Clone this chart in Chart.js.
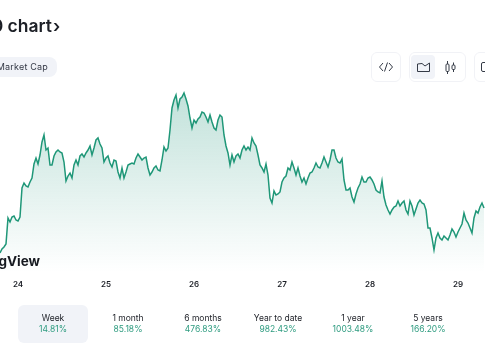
<!DOCTYPE html>
<html>
<head>
<meta charset="utf-8">
<script src="https://cdn.jsdelivr.net/npm/chart.js@4"></script>
<style>
  html, body { margin: 0; padding: 0; background: #fff; overflow: hidden; }
  body { width: 485px; height: 360px; position: relative; font-family: Inter, sans-serif; color: #1c1f26; }
  #wrap { position: absolute; left: 0; top: 0; width: 485px; height: 300px; }
  .abs { position: absolute; white-space: nowrap; }
  #title { right: 433px; top: 14px; font-size: 17.5px; font-weight: 600; line-height: 24px; }
  #chevron { left: 53px; top: 14px; font-size: 17.5px; font-weight: 600; line-height: 24px; }
  #pill { left: -20px; top: 57px; width: 77px; height: 20px; background: #f1f3f8; border-radius: 8px; }
  #pillText { right: 437px; top: 61px; font-size: 9px; line-height: 12px; letter-spacing: .2px; color: #333845; }
  #logo { right: 445px; top: 252px; font-size: 13.5px; font-weight: 700; line-height: 18px; color: #171a20; }
  .box { position: absolute; top: 52px; height: 28px; border: 1px solid #f1f2f6; border-radius: 6px; box-sizing: content-box; }
  .box svg { position: absolute; }
  #active { position: absolute; left: 411px; top: 55px; width: 24px; height: 24px; background: #f1f3f8; border-radius: 4px; }
  #week { position: absolute; left: 18px; top: 305px; width: 70px; height: 38px; background: #f1f3f8; border-radius: 6px; }
  .stat { position: absolute; top: 313px; width: 75px; margin-left: -37.5px; text-align: center; font-size: 8.5px; line-height: 11px; }
  .stat b { display: block; font-weight: 400; color: #2f9c80; }
</style>
</head>
<body>
<div id="wrap"><canvas id="priceChart" width="485" height="300"></canvas></div>

<div class="abs" id="title">0 chart</div>
<div class="abs" id="chevron">›</div>
<div class="abs" id="pill"></div>
<div class="abs" id="pillText">Market Cap</div>
<div class="abs" id="logo">TradingView</div>

<div class="box" style="left:371px;width:28px">
  <svg width="28" height="28" viewBox="0 0 28 28" fill="none" stroke="#343a46" stroke-width="1">
    <path d="M11 10l-3.500 4 3.500 4M17 10l3.500 4-3.500 4M15.500 9.500l-3 9"/>
  </svg>
</div>
<div id="active"></div>
<div class="box" style="left:409px;width:55px">
  <svg width="55" height="28" viewBox="0 0 55 28" fill="none" stroke="#343a46" stroke-width="1">
    <path d="M7.500 11v7.500h12V10l-4.500 3-3-2.500z"/>
    <path d="M37.500 8v3M37.500 18.500v2.500M43.500 9.500v2.500M43.500 16.500v2.500"/>
    <rect x="36" y="11" width="3" height="7.500" rx="1"/>
    <rect x="42" y="12" width="3" height="4.500" rx="1"/>
  </svg>
</div>
<div class="box" style="left:474px;width:40px">
  <svg width="40" height="28" viewBox="0 0 40 28" fill="none" stroke="#343a46" stroke-width="1">
    <rect x="6.500" y="9.500" width="10" height="9" rx="1.500"/>
  </svg>
</div>

<div id="week"></div>
<div id="stats"></div>

<script>
// values, one every half hour or so
const prices = [
  19, 23, 25, 28, 54, 50, 55, 56, 52, 51, 55, 84, 89, 86, 85, 90, 94, 108, 114, 108,
  117, 130, 137, 122, 124, 107, 107, 116, 120, 122, 120, 119, 110, 91, 96, 99, 94, 107, 112, 107,
  116, 118, 115, 119, 122, 126, 117, 124, 132, 134, 128, 124, 110, 114, 116, 109, 105, 112, 111, 100,
  94, 104, 94, 100, 107, 108, 109, 108, 114, 118, 115, 112, 114, 115, 104, 97, 100, 104, 106, 102,
  101, 112, 125, 121, 124, 142, 164, 172, 177, 164, 173, 175, 179, 173, 166, 154, 144, 152, 149, 153,
  155, 160, 159, 155, 150, 157, 150, 144, 142, 152, 157, 155, 137, 126, 119, 107, 117, 110, 116, 118,
  114, 122, 126, 122, 125, 122, 134, 129, 126, 117, 107, 104, 100, 108, 97, 74, 69, 81, 77, 78,
  80, 90, 94, 96, 104, 102, 110, 104, 97, 104, 96, 90, 94, 88, 94, 99, 100, 104, 109, 105,
  104, 109, 115, 110, 105, 112, 122, 122, 114, 110, 109, 113, 92, 82, 82, 84, 75, 70, 78, 84,
  88, 95, 90, 90, 94, 95, 92, 88, 82, 80, 79, 91, 75, 67, 62, 58, 62, 65, 66, 71,
  66, 69, 71, 62, 58, 71, 66, 57, 63, 69, 72, 69, 68, 62, 44, 44, 34, 22, 34, 39,
  34, 32, 36, 34, 32, 37, 43, 40, 35, 40, 44, 48, 59, 52, 49, 44, 39, 54, 61, 59,
  65, 69, 64
];
const firstDay = 23.795;
const lastDay = 29.307;
const dayStep = (lastDay - firstDay) / 242.5;
const days = prices.map((p, i) => firstDay + i * dayStep);

const statLabels = ["Week", "1 month", "6 months", "Year to date", "1 year", "5 years"];
const statValues = ["14.81%", "85.18%", "476.83%", "982.43%", "1003.48%", "166.20%"];

function buildStats() {
  const box = document.getElementById("stats");
  statLabels.forEach((label, i) => {
    const div = document.createElement("div");
    div.className = "stat";
    div.style.left = 53 + i * 75 + "px";
    div.textContent = label;
    const val = document.createElement("b");
    val.textContent = statValues[i];
    div.appendChild(val);
    box.appendChild(div);
  });
}

function areaGradient(context) {
  const chart = context.chart;
  const area = chart.chartArea;
  if (!area) return "rgba(22,140,112,0.2)";
  const g = chart.ctx.createLinearGradient(0, 90, 0, area.bottom);
  g.addColorStop(0, "rgba(26,145,118,0.27)");
  g.addColorStop(1, "rgba(26,145,118,0)");
  return g;
}

function buildChart() {
  const ctx = document.getElementById("priceChart").getContext("2d");
  new Chart(ctx, {
    type: "line",
    data: {
      datasets: [
        {
          data: prices.map((p, i) => ({ x: days[i], y: p })),
          borderColor: "#1f9778",
          borderWidth: 1.5,
          pointRadius: 0,
          tension: 0,
          fill: "start",
          backgroundColor: areaGradient,
        },
      ],
    },
    options: {
      responsive: false,
      animation: false,
      layout: { padding: 0 },
      plugins: { legend: { display: false }, tooltip: { enabled: false } },
      scales: {
        x: {
          type: "linear",
          min: firstDay,
          max: lastDay,
          grid: { display: false },
          border: { display: false },
          afterFit: (scale) => {
            scale.height = 28;
          },
          ticks: {
            stepSize: 1,
            includeBounds: false,
            maxRotation: 0,
            padding: 0,
            color: "#1c1f26",
            font: { family: "Inter", size: 8, weight: "600" },
            callback: (v) => String(v),
          },
        },
        y: { display: false, min: 0, max: 272 },
      },
    },
  });
}

buildStats();
buildChart();
</script>
</body>
</html>
